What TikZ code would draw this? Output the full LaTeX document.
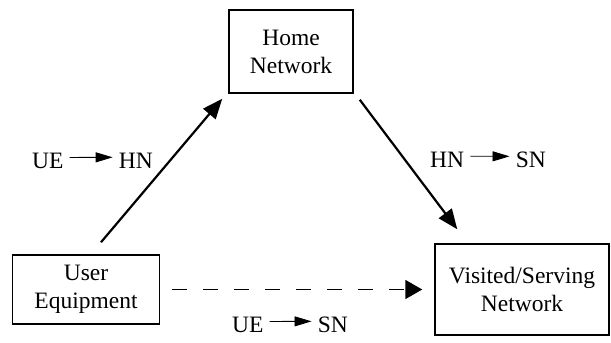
\documentclass[tikz,border=0pt]{standalone}
\usepackage{fontspec}
\setmainfont{Liberation Serif}
\usetikzlibrary{arrows.meta}
\begin{document}
\begin{tikzpicture}[x=1pt,y=-1pt,
  netbox/.style={draw, line width=1.5pt, align=center, inner sep=0pt,
    font=\fontsize{23.5}{28}\selectfont},
  lbl/.style={inner sep=0pt, font=\fontsize{23.5}{28}\selectfont},
  flow/.style={line width=2.2pt, -{Triangle[length=20pt,width=16pt]}},
  optflow/.style={line width=1.8pt, dash pattern=on 15pt off 16pt,
    -{Triangle[length=17pt,width=19pt]}},
  tinyflow/.style={line width=0.8pt, -{Triangle[length=17pt,width=10pt]}}]
  \useasboundingbox (0,0) rectangle (611,343);

  % network entities
  \node[netbox, minimum width=124pt, minimum height=83pt] (home) at (291,51.5)
    {Home\\Network};
  \node[netbox, minimum width=147pt, minimum height=69pt] (ue) at (86,289.5)
    {User\\Equipment};
  \node[netbox, minimum width=174pt, minimum height=91pt] (vis) at (522,289.5)
    {Visited/Serving\\Network};

  % signalling paths
  \draw[flow] ([xshift=15pt,yshift=12pt]ue.north)
    -- ([xshift=-6pt,yshift=-5pt]home.south west);
  \draw[flow] ([xshift=6pt,yshift=-6pt]home.south east)
    -- ([xshift=23pt,yshift=14pt]vis.north west);
  \draw[optflow] ([xshift=12pt]ue.east) -- ([xshift=-12pt]vis.west);

  % path labels
  \node[lbl, anchor=base west] (l1a) at (32,168) {UE};
  \node[lbl, anchor=base east] (l1b) at (153,168) {HN};
  \draw[tinyflow] ([xshift=6pt,yshift=3pt]l1a.east) -- ([xshift=-6pt,yshift=3pt]l1b.west);

  \node[lbl, anchor=base west] (l2a) at (430,167) {HN};
  \node[lbl, anchor=base east] (l2b) at (546,167) {SN};
  \draw[tinyflow] ([xshift=6pt,yshift=3pt]l2a.east) -- ([xshift=-6pt,yshift=3pt]l2b.west);

  \node[lbl, anchor=base west] (l3a) at (232,332) {UE};
  \node[lbl, anchor=base east] (l3b) at (348,332) {SN};
  \draw[tinyflow] ([xshift=6pt,yshift=3pt]l3a.east) -- ([xshift=-6pt,yshift=3pt]l3b.west);
\end{tikzpicture}
\end{document}
